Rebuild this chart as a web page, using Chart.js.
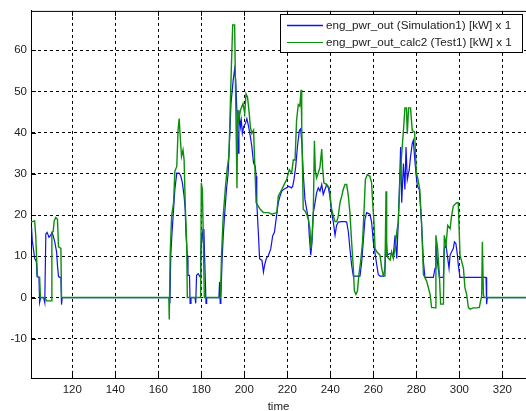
<!DOCTYPE html>
<html><head><meta charset="utf-8">
<script src="https://cdn.jsdelivr.net/npm/chart.js@4"></script>
<style>html,body{margin:0;padding:0;background:#fff;overflow:hidden}
#wrap{position:relative;width:526px;height:411px}</style>
</head><body><div id="wrap"><canvas id="c" width="526" height="411"></canvas></div>
<script>
const seriesLabels = ["eng_pwr_out (Simulation1) [kW] x 1", "eng_pwr_out_calc2 (Test1) [kW] x 1"];
const xAxisTitle = "time";
const xTicks = [120,140,160,180,200,220,240,260,280,300,320];
const yTicks = [-10,0,10,20,30,40,50,60];

const simTime = [100.8,101.1,101.4,102.0,102.5,103.3,103.6,104.5,104.8,105.3,106.1,106.7,107.2,107.7,108.3,109.2,109.8,110.6,111.1,111.9,112.7,113.1,113.6,114.2,114.7,115.0,115.3,
165.1,165.4,165.8,166.3,166.9,167.7,168.6,169.7,170.5,171.2,172.0,172.5,172.9,173.5,173.8,174.5,174.8,175.2,177.1,177.4,177.8,178.6,179.4,179.7,180.2,180.5,180.9,181.2,181.7,182.2,182.5,
188.2,188.5,188.8,189.1,189.7,190.2,190.8,191.7,192.5,193.2,193.8,194.8,195.5,196.0,196.6,197.1,197.5,198.2,198.6,199.1,199.7,200.5,201.2,201.7,202.3,202.8,203.5,204.3,205.1,205.5,205.8,206.6,207.1,208.2,208.9,209.4,210.2,211.2,212.3,213.2,214.0,214.8,215.8,216.6,217.4,218.2,219.7,220.5,222.0,
222.5,223.1,223.9,224.7,225.6,226.2,226.8,227.4,228.2,229.0,229.8,230.2,230.9,231.5,232.1,232.9,233.6,234.4,235.2,236.0,236.7,237.5,238.3,239.1,239.8,240.6,241.4,242.2,242.9,243.7,245.3,246.8,247.6,248.4,249.1,249.9,250.7,253.8,254.6,255.3,256.1,256.9,258.4,259.2,260.0,260.8,261.6,262.3,263.1,264.7,265.4,265.9,266.5,267.8,269.3,270.1,270.9,271.6,272.1,272.7,273.2,274.0,274.7,275.2,275.8,276.7,277.3,278.1,278.6,279.2,279.8,280.5,281.4,282.4,283.3,284.0,287.9,288.7,289.1,289.8,290.7,292.6,293.0,293.8,294.6,295.2,295.7,296.4,297.2,297.7,298.4,299.1,299.5,300.3,312.4,312.7,313.0,331];
const simPower = [17,16.6,13.8,11.5,9.5,8.7,5.1,4.9,-1.2,0,0,0,-1.2,15.4,15.8,14.6,15,15.8,15,13.4,11.1,7.9,5.1,4.9,4.9,-1.7,0,
0,-1.4,10.2,15,19.8,26.2,30.2,30.2,29.4,27.8,24.6,21.4,15,10.2,5.4,5.4,-1.4,0,0,-1.4,5.4,5.8,5,10.2,15,15.8,13.4,16.6,7,-1.4,0,
0,3.8,-1.4,0,9.4,15,19.8,26.2,30.2,39,47,52.6,55.4,52.6,44.6,35,45.4,41.4,43,39.8,41.4,42.2,43.4,42.2,40.6,39,36.6,32.6,31.8,29.4,23,15,9.4,9,6.2,7.8,9.4,10.2,11.8,15,15.8,19,23,24.6,25.8,26.2,26.6,27,26.6,
27,28.6,31.7,36.5,40.5,40.9,37.3,30.2,23.8,21.4,19,15.1,10.3,13.5,20.6,23,25.4,26.6,25.8,27.4,25,26.2,27.4,26.6,24.6,20.6,18.3,15.1,17.5,18.3,18.4,18.4,18.3,15.9,11.9,7.9,5.2,5.2,8.7,13.5,19,20.6,20.2,18.3,13.5,10.7,7.9,5.6,5.2,5.2,7.1,15.1,10.3,10.7,10.3,15.1,9.5,18.3,26.2,36.5,23,32.5,26.2,36.5,28.6,31,34.1,37.3,38.1,34.1,30.2,27,26.2,18.3,8.7,4.9,4.9,7.1,12.7,8.7,4.9,4.9,11.9,12.7,9.5,7.1,10.3,11.1,11.9,13.5,13.1,10.3,7.9,4.9,4.9,-1.6,0,0];

const testTime = [100.8,102.5,103.0,103.3,103.8,104.8,105.2,107.3,108.0,110.3,110.5,111.1,111.6,112.3,113.1,113.6,114.7,115.0,
164.9,165.1,165.5,166.2,167.1,167.7,168.6,169.2,169.7,170.2,170.8,171.5,172.0,172.5,173.2,173.5,179.7,180.0,180.5,180.9,181.4,
188.9,189.4,190.2,191.2,192.0,192.8,193.2,193.5,194.0,194.6,195.5,195.8,196.6,196.9,197.4,198.2,199.4,200.2,200.8,201.5,202.3,202.8,203.5,204.3,204.8,205.5,207.4,208.9,211.2,212.8,215.1,215.8,217.4,218.9,219.7,220.9,222.0,222.8,
223.6,224.3,225.1,225.8,226.4,226.7,227.0,227.4,228.2,229.0,229.8,230.5,231.0,231.5,232.1,232.6,233.0,233.6,234.4,235.2,236.0,236.4,237.0,238.3,239.5,240.6,241.4,242.2,243.0,243.7,244.5,245.3,246.0,246.8,247.6,248.4,249.1,249.9,250.7,251.2,251.9,252.6,253.3,254.1,255.0,255.7,256.3,257.2,258.4,259.2,259.7,260.3,260.8,261.6,263.1,263.9,264.7,265.4,265.9,266.2,267.0,267.8,268.5,269.3,270.1,270.9,271.6,272.4,273.2,274.0,274.7,275.4,275.8,276.4,277.3,278.1,279.2,280.0,280.8,281.6,282.4,283.3,284.8,286.4,287.1,288.7,289.1,289.9,290.7,291.3,292.6,293.0,293.8,294.6,295.7,296.4,297.2,298.0,298.8,299.5,300.3,301.1,301.9,302.6,303.4,304.2,305.0,306.5,308.1,309.3,309.9,310.4,310.7,311.2,311.5,331];
const testPower = [18.3,18.6,15,11.1,5.1,4.9,0,0,-0.8,-0.8,15.8,16,18.6,19.4,19,12.3,11.9,0,
0,-5.3,10.2,19.8,23,30.6,31.8,40.6,43.4,39,34.2,35.8,33.4,23,13.4,0,0,27.8,26.2,15.8,0,
0,10.2,19.8,26.6,31,34.2,40.6,47,56.2,66.1,66.1,54.9,26.5,45.5,43,45.4,47,44.6,49.4,48.6,44.6,41.4,39.8,40.6,33.4,23,21.4,20.6,20.6,20.2,20.6,24.6,26.2,27.8,28.6,31,30.2,33.4,
33.3,42.9,46.8,46.4,50.4,42,33.3,21.4,21,20.2,19,16.7,11.9,15,21,38,31,29,30.2,31.7,36,31.7,27.8,27.4,26.6,21.4,19.8,18.4,18.4,19.8,23,24.6,26.2,27.4,27.4,24.6,20.6,13.5,7.1,1.6,0.8,1.6,5.6,8.7,13.5,21.4,28.6,29.8,29.4,27.8,23,18.3,11.9,11.1,10.3,7.1,5.2,5.2,25.8,10.3,9.5,9.1,11.1,9.5,11.9,15.9,18.3,28.6,34.9,40.5,46,46,39.7,46,46,40.5,40.1,30.2,28.6,26.2,18.3,5.6,4,0.8,-2.4,-2.5,15.1,11.9,5.6,-1.6,-1.6,15.1,12.7,17.5,16.7,19.8,22.2,22.6,23,23,10.3,8.7,7.1,2.4,0.8,-2.4,-2.8,-2.5,-2.5,-2.4,-0.8,0.4,13.5,0.8,0,0];

const toPoints = (xs, ys) => xs.map((x, i) => ({x: x, y: ys[i]}));
const FONT = "'Liberation Sans', Arial, sans-serif";
const BLUE = "#1010f5", GREEN = "#0a900a";

const frame = {
  id: 'frame',
  afterDraw(chart) {
    const {ctx, chartArea: a, scales: {x, y}} = chart;
    ctx.save();
    ctx.strokeStyle = '#000'; ctx.lineWidth = 1;
    ctx.beginPath();
    ctx.moveTo(a.left, a.top + 0.5); ctx.lineTo(a.right, a.top + 0.5);
    xTicks.forEach(v => { const p = Math.round(x.getPixelForValue(v)) + 0.5;
      ctx.moveTo(p, a.bottom); ctx.lineTo(p, a.bottom - 5);
      ctx.moveTo(p, a.top); ctx.lineTo(p, a.top + 5); });
    yTicks.forEach(v => { const p = Math.round(y.getPixelForValue(v)) + 0.5;
      ctx.moveTo(a.left, p); ctx.lineTo(a.left + 5, p); });
    ctx.stroke();
    const lx = 280.5, ly = 14.5, lw = 242, lh = 38;
    ctx.fillStyle = '#fff'; ctx.fillRect(lx, ly, lw, lh);
    ctx.strokeRect(lx, ly, lw, lh);
    ctx.font = "11.7px " + FONT; ctx.textBaseline = 'middle'; ctx.textAlign = 'left';
    chart.data.datasets.forEach((ds, i) => {
      const yy = i === 0 ? 25 : 42;
      ctx.strokeStyle = ds.borderColor; ctx.lineWidth = i === 0 ? 1.6 : 1;
      ctx.beginPath(); ctx.moveTo(287, yy + 0.5); ctx.lineTo(323, yy + 0.5); ctx.stroke();
      ctx.fillStyle = '#222'; ctx.fillText(ds.label, 326, yy + 0.5);
    });
    ctx.restore();
  }
};

new Chart(document.getElementById('c'), {
  type: 'line',
  data: { datasets: [
    { label: seriesLabels[0], data: toPoints(simTime, simPower), borderColor: BLUE, borderWidth: 1.2, pointRadius: 0, tension: 0, order: 1 },
    { label: seriesLabels[1], data: toPoints(testTime, testPower), borderColor: GREEN, borderWidth: 1.4, pointRadius: 0, tension: 0, order: 0 }
  ]},
  options: {
    responsive: false, animation: false, devicePixelRatio: 1,
    layout: { padding: { top: 6, right: 0, left: 0, bottom: 0 } },
    plugins: { legend: { display: false }, tooltip: { enabled: false } },
    scales: {
      x: { type: 'linear', min: 100.8, max: 331,
        afterFit: s => { s.height = 33; },
        afterBuildTicks: s => { s.ticks = xTicks.map(v => ({value: v})); },
        ticks: { font: { size: 11.5, family: FONT }, color: '#222', padding: 5, maxRotation: 0 },
        grid: { color: '#000', lineWidth: 1, drawTicks: false },
        border: { display: true, color: '#000', width: 1, dash: [3, 3] },
        title: { display: true, text: xAxisTitle, font: { size: 11.5, family: FONT }, color: '#222', padding: { top: 0, bottom: -3 } } },
      y: { type: 'linear', min: -19.5, max: 69.5,
        afterFit: s => { s.width = 31; },
        afterBuildTicks: s => { s.ticks = yTicks.map(v => ({value: v})); },
        ticks: { font: { size: 11.5, family: FONT }, color: '#222', padding: 4 },
        grid: { color: '#000', lineWidth: 1, drawTicks: false },
        border: { display: true, color: '#000', width: 1, dash: [3, 3] } }
    }
  },
  plugins: [frame]
});
</script></body></html>
